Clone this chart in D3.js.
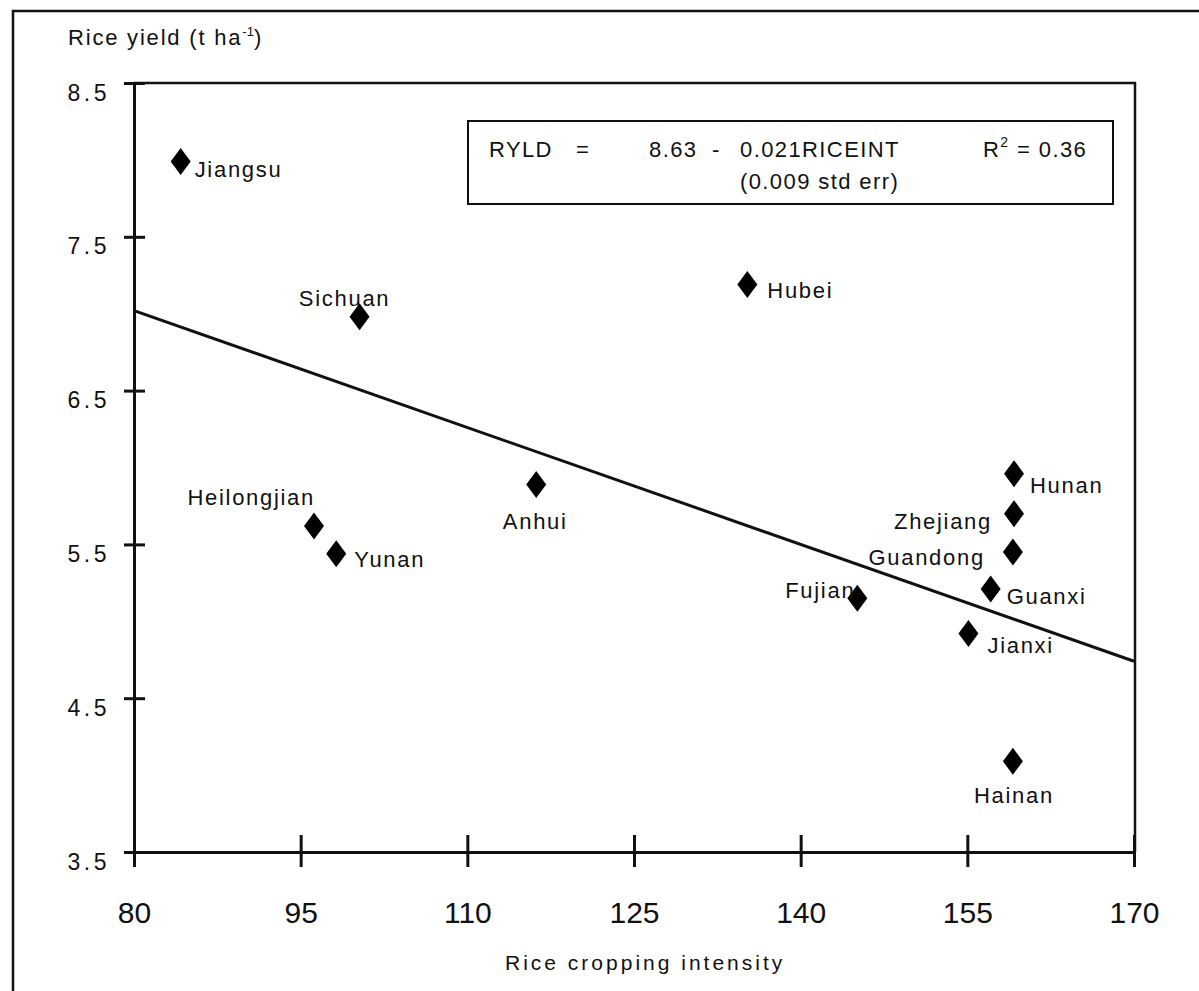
<!DOCTYPE html>
<html>
<head>
<meta charset="utf-8">
<title>Rice yield and rice cropping intensity</title>
<script src="https://d3js.org/d3.v7.min.js"></script>
<style>
  body { margin: 0; background: #fff; }
  text { font-family: "Liberation Sans", Arial, Helvetica, sans-serif; fill: #111; }
</style>
</head>
<body>
<script>
// provinces, values
var provinces = ["Jiangsu", "Sichuan", "Hubei", "Heilongjian", "Yunan", "Anhui", "Hunan",
                 "Zhejiang", "Guandong", "Guanxi", "Fujian", "Jianxi", "Hainan"]
var intensity = [84.2, 100.3, 135.2, 96.2, 98.2, 116.2, 159.2, 159.2, 159.1, 157.1, 145.1, 155.1, 159.1]
var riceYield = [7.99, 6.98, 7.19, 5.62, 5.44, 5.89, 5.96, 5.70, 5.45, 5.21, 5.15, 4.92, 4.09]

var xTicks = [80, 95, 110, 125, 140, 155, 170]
var yTicks = [3.5, 4.5, 5.5, 6.5, 7.5, 8.5]

// regression line as drawn in the figure (its two ends)
var fitX = [80, 170]
var fitY = [7.02, 4.74]

// where each name sits next to its marker (px from marker centre)
var labelPos = {
  "Jiangsu":     [14, 16, "start"],
  "Sichuan":     [-15, -11, "middle"],
  "Hubei":       [20, 14, "start"],
  "Heilongjian": [1, -21, "end"],
  "Yunan":       [18, 13, "start"],
  "Anhui":       [-1, 45, "middle"],
  "Hunan":       [16, 19, "start"],
  "Zhejiang":    [-22, 15, "end"],
  "Guandong":    [-28, 13, "end"],
  "Guanxi":      [16, 15, "start"],
  "Fujian":      [-2, 0, "end"],
  "Jianxi":      [19, 19, "start"],
  "Hainan":      [1, 42, "middle"]
}

var width = 1199, height = 991

var svg = d3.select("body").append("svg")
  .attr("width", width)
  .attr("height", height)

svg.append("rect").attr("width", width).attr("height", height).attr("fill", "#fff")

// frame of the scanned page
svg.append("path")
  .attr("d", "M13," + height + "V11H" + width)
  .attr("fill", "none").attr("stroke", "#111").attr("stroke-width", 2.5)

var x = d3.scaleLinear().domain([80, 170]).range([134, 1134])
var y = d3.scaleLinear().domain([3.5, 8.5]).range([852, 83])

// top and right border of the plot area
svg.append("path")
  .attr("d", "M" + x(80) + "," + y(8.5) + "H" + (x(170) + 1) + "V" + y(3.5))
  .attr("fill", "none").attr("stroke", "#111").attr("stroke-width", 2.5)

// x axis
var gx = svg.append("g")
  .attr("transform", "translate(0," + y(3.5) + ")")
  .call(d3.axisBottom(x).tickValues(xTicks).tickSizeOuter(0).tickFormat(d3.format("d")))
gx.select(".domain").attr("stroke", "#111").attr("stroke-width", 3)
gx.selectAll(".tick line").attr("y1", -17).attr("y2", 15).attr("stroke", "#111").attr("stroke-width", 3)
gx.selectAll(".tick text")
  .attr("y", 71).attr("dy", null)
  .attr("font-size", 30)
  .attr("font-family", null)
  .attr("fill", "#111")

// y axis
var gy = svg.append("g")
  .attr("transform", "translate(" + x(80) + ",0)")
  .call(d3.axisLeft(y).tickValues(yTicks).tickSizeOuter(0).tickFormat(d3.format(".1f")))
gy.select(".domain").attr("stroke", "#111").attr("stroke-width", 3)
gy.selectAll(".tick line").attr("x1", -10).attr("x2", 11).attr("stroke", "#111").attr("stroke-width", 3)
gy.selectAll(".tick text")
  .attr("x", -24).attr("y", 17).attr("dy", null)
  .attr("font-size", 23)
  .attr("letter-spacing", 3.5)
  .attr("font-family", null)
  .attr("fill", "#111")

// axis titles
var yTitle = svg.append("text")
  .attr("x", 68).attr("y", 45)
  .attr("font-size", 22)
  .attr("letter-spacing", 1.8)
yTitle.append("tspan").text("Rice yield (t ha")
yTitle.append("tspan").attr("dy", -9).attr("font-size", 13).attr("letter-spacing", 0).text("-1")
yTitle.append("tspan").attr("dy", 9).text(")")

svg.append("text")
  .attr("x", 505).attr("y", 970)
  .attr("font-size", 21)
  .attr("letter-spacing", 3)
  .text("Rice cropping intensity")

// regression line
var line = d3.line().x(d => x(d[0])).y(d => y(d[1]))
svg.append("path")
  .datum(d3.zip(fitX, fitY))
  .attr("d", line)
  .attr("fill", "none")
  .attr("stroke", "#111")
  .attr("stroke-width", 3)

// equation box
var eq = svg.append("g").attr("font-size", 22).attr("letter-spacing", 1.4)
eq.append("rect")
  .attr("x", 468).attr("y", 121)
  .attr("width", 645).attr("height", 83)
  .attr("fill", "#fff").attr("stroke", "#111").attr("stroke-width", 2)
eq.append("text").attr("x", 489).attr("y", 157).text("RYLD")
eq.append("text").attr("x", 576).attr("y", 157).text("=")
eq.append("text").attr("x", 649).attr("y", 157).text("8.63")
eq.append("text").attr("x", 712).attr("y", 157).text("-")
eq.append("text").attr("x", 740).attr("y", 157).text("0.021RICEINT")
eq.append("text").attr("x", 740).attr("y", 189).text("(0.009 std err)")
var r2 = eq.append("text").attr("x", 983).attr("y", 157)
r2.append("tspan").text("R")
r2.append("tspan").attr("dy", -10).attr("font-size", 14).text("2")
r2.append("tspan").attr("dy", 10).text(" = 0.36")

// provinces
var pts = provinces.map((p, i) => ({name: p, x: intensity[i], y: riceYield[i]}))

// tall diamond marker, 20 px wide and 27 px high
var tallDiamond = {
  draw: function(ctx, size) {
    var h = Math.sqrt(size) * 0.675, w = Math.sqrt(size) * 0.5
    ctx.moveTo(0, -h)
    ctx.lineTo(w, 0)
    ctx.lineTo(0, h)
    ctx.lineTo(-w, 0)
    ctx.closePath()
  }
}

svg.selectAll("path.pt")
  .data(pts)
  .enter()
  .append("path")
    .attr("class", "pt")
    .attr("transform", d => "translate(" + x(d.x) + "," + y(d.y) + ")")
    .attr("d", d3.symbol().type(tallDiamond).size(400))
    .attr("fill", "#000")

svg.selectAll("text.lbl")
  .data(pts)
  .enter()
  .append("text")
    .attr("class", "lbl")
    .attr("x", d => x(d.x) + labelPos[d.name][0])
    .attr("y", d => y(d.y) + labelPos[d.name][1])
    .attr("text-anchor", d => labelPos[d.name][2])
    .attr("font-size", 22)
    .attr("letter-spacing", 1.7)
    .text(d => d.name)
</script>
</body>
</html>
